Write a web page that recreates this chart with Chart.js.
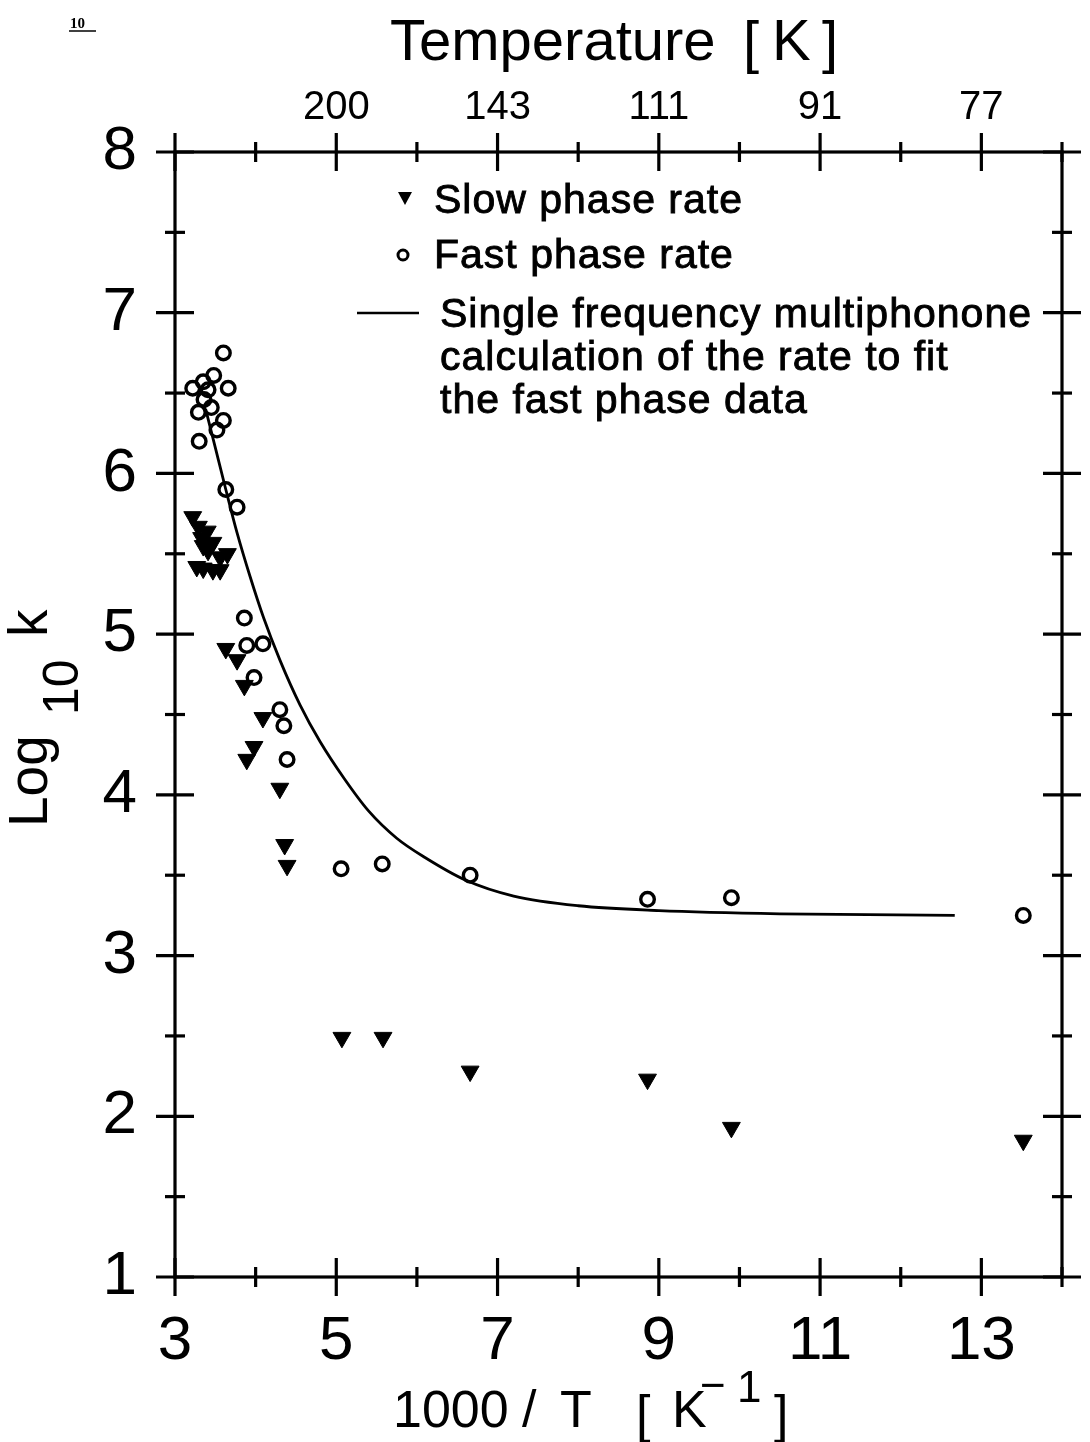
<!DOCTYPE html>
<html>
<head>
<meta charset="utf-8">
<script src="https://cdn.jsdelivr.net/npm/chart.js@4.4.0/dist/chart.umd.min.js"></script>
<style>
html, body { margin: 0; padding: 0; background: #fff; }
#wrap { width: 1090px; height: 1442px; }
</style>
</head>
<body>
<div id="wrap"><canvas id="chart" width="1090" height="1442"></canvas></div>
<script>
// slow phase rate (filled triangles), x = 1000/T, y = log10 k
var slowX = [3.22, 3.29, 3.40, 3.33, 3.47, 3.35, 3.41, 3.65, 3.56, 3.27, 3.35, 3.47, 3.56,
             3.63, 3.77, 3.86, 4.09, 3.98, 3.89, 4.30, 4.36, 4.39, 5.07, 5.58, 6.66, 8.86, 9.90, 13.52];
var slowY = [5.73, 5.67, 5.64, 5.60, 5.57, 5.55, 5.52, 5.50, 5.48, 5.42, 5.41, 5.40, 5.40,
             4.91, 4.84, 4.68, 4.48, 4.30, 4.22, 4.04, 3.69, 3.56, 2.49, 2.49, 2.28, 2.23, 1.93, 1.85];

// fast phase rate (open circles)
var fastX = [3.60, 3.48, 3.35, 3.22, 3.66, 3.41, 3.36, 3.45, 3.29, 3.60, 3.52, 3.30, 3.63, 3.77,
             3.86, 3.89, 4.09, 3.98, 4.30, 4.35, 4.39, 5.06, 5.57, 6.66, 8.86, 9.90, 13.52];
var fastY = [6.75, 6.61, 6.57, 6.53, 6.53, 6.52, 6.46, 6.41, 6.38, 6.33, 6.27, 6.20, 5.90, 5.79,
             5.10, 4.93, 4.94, 4.73, 4.53, 4.43, 4.22, 3.54, 3.57, 3.50, 3.35, 3.36, 3.25];

// multiphonon fit curve
var fitX = [3.38, 3.50, 3.63, 3.77, 3.93, 4.10, 4.30, 4.55, 4.80, 5.10, 5.40, 5.75, 6.10, 6.60, 7.20, 8.00, 9.00, 10.50, 12.67];
var fitY = [6.40, 6.16, 5.90, 5.63, 5.36, 5.10, 4.84, 4.56, 4.33, 4.10, 3.90, 3.73, 3.61, 3.47, 3.37, 3.31, 3.28, 3.26, 3.25];

// tick labels
var bottomTicks = [3, 5, 7, 9, 11, 13];
var topTickValues = [5, 7, 9, 11, 13];
var topTickLabels = ['200', '143', '111', '91', '77'];
var yTicks = [1, 2, 3, 4, 5, 6, 7, 8];

function pts(xs, ys) {
    return xs.map(function(x, i) { return {x: x, y: ys[i]}; });
}

Chart.defaults.font.family = '"Liberation Sans", Arial, sans-serif';
Chart.defaults.color = '#000';

function seg(ctx, x1, y1, x2, y2) {
    ctx.beginPath();
    ctx.moveTo(x1, y1);
    ctx.lineTo(x2, y2);
    ctx.stroke();
}

function heavyText(ctx, s, x, y) {
    ctx.fillText(s, x, y);
    ctx.strokeText(s, x, y);
}

// frame with ticks crossing the border on all four sides
var boxPlugin = {
    id: 'box',
    afterDatasetsDraw: function(chart) {
        var ctx = chart.ctx, a = chart.chartArea;
        var xs = chart.scales.x, ys = chart.scales.y;
        ctx.save();
        ctx.strokeStyle = '#000';
        ctx.lineWidth = 3.2;
        ctx.strokeRect(a.left, a.top, a.right - a.left, a.bottom - a.top);
        xs.ticks.forEach(function(t) {
            var px = xs.getPixelForValue(t.value);
            var len = (Math.round(t.value) % 2 === 1) ? 19 : 10;
            seg(ctx, px, a.bottom - len, px, a.bottom + len);
            seg(ctx, px, a.top - len, px, a.top + len);
        });
        ys.ticks.forEach(function(t) {
            var py = ys.getPixelForValue(t.value);
            var len = Number.isInteger(t.value) ? 19 : 10;
            seg(ctx, a.left - len, py, a.left + len, py);
            seg(ctx, a.right - len, py, a.right + len, py);
        });
        ctx.restore();
    },
    afterDraw: function(chart) {
        var ctx = chart.ctx;
        ctx.save();
        ctx.fillStyle = '#000';
        ctx.strokeStyle = '#000';
        ctx.textBaseline = 'alphabetic';
        ctx.textAlign = 'left';

        // page number
        ctx.font = 'bold 15px "Liberation Serif"';
        ctx.fillText('10', 70, 28);
        ctx.lineWidth = 1.5;
        seg(ctx, 69, 31, 96, 31);

        // top title
        ctx.font = '58px "Liberation Sans"';
        ctx.fillText('Temperature', 390, 60);
        ctx.fillText('[', 743, 62);
        ctx.fillText('K', 772, 60);
        ctx.fillText(']', 822, 62);

        // bottom title
        ctx.font = '52px "Liberation Sans"';
        ctx.fillText('1000', 393, 1427);
        ctx.fillText('/', 522, 1427);
        ctx.fillText('T', 560, 1427);
        ctx.fillText('[', 636, 1432);
        ctx.fillText('K', 672, 1427);
        ctx.fillText(']', 774, 1432);
        ctx.font = '44px "Liberation Sans"';
        ctx.fillText('\u2212', 700, 1400);
        ctx.fillText('1', 737, 1402);

        // y title, rotated
        ctx.save();
        ctx.translate(47, 0);
        ctx.rotate(-Math.PI / 2);
        ctx.font = '55px "Liberation Sans"';
        ctx.fillText('Log', -827, 0);
        ctx.fillText('k', -637, 0);
        ctx.font = '50px "Liberation Sans"';
        ctx.fillText('10', -715, 31);
        ctx.restore();

        // legend
        ctx.font = '41px "Liberation Sans"';
        ctx.letterSpacing = '1px';
        ctx.lineWidth = 0.9;
        heavyText(ctx, 'Slow phase rate', 434, 213);
        heavyText(ctx, 'Fast phase rate', 434, 268);
        heavyText(ctx, 'Single frequency multiphonone', 440, 327);
        heavyText(ctx, 'calculation of the rate to fit', 440, 370);
        heavyText(ctx, 'the fast phase data', 440, 413);
        ctx.letterSpacing = '0px';
        // legend triangle
        ctx.beginPath();
        ctx.moveTo(398, 192);
        ctx.lineTo(412, 192);
        ctx.lineTo(405, 205);
        ctx.closePath();
        ctx.fill();
        // legend circle
        ctx.lineWidth = 3;
        ctx.beginPath();
        ctx.arc(403, 255, 5, 0, Math.PI * 2);
        ctx.stroke();
        // legend line
        ctx.lineWidth = 2.6;
        seg(ctx, 357, 313, 419, 313);
        ctx.restore();
    }
};

new Chart(document.getElementById('chart').getContext('2d'), {
    type: 'scatter',
    data: {
        datasets: [{
            label: 'Slow phase rate',
            data: pts(slowX, slowY),
            pointStyle: 'triangle',
            rotation: 180,
            pointRadius: 10.3,
            backgroundColor: '#000',
            borderColor: '#000',
            borderWidth: 1
        }, {
            label: 'Fast phase rate',
            data: pts(fastX, fastY),
            pointStyle: 'circle',
            pointRadius: 6.8,
            backgroundColor: 'rgba(0,0,0,0)',
            borderColor: '#000',
            borderWidth: 3.4
        }, {
            type: 'line',
            label: 'Single frequency multiphonone calculation',
            data: pts(fitX, fitY),
            showLine: true,
            pointRadius: 0,
            borderColor: '#000',
            borderWidth: 2.8,
            cubicInterpolationMode: 'monotone',
            fill: false
        }]
    },
    options: {
        responsive: false,
        animation: false,
        devicePixelRatio: 1,
        layout: { padding: 0 },
        plugins: {
            legend: { display: false },
            title: { display: false },
            tooltip: { enabled: false }
        },
        scales: {
            x: {
                type: 'linear', position: 'bottom', min: 3, max: 14,
                grid: { display: false, drawTicks: false },
                border: { display: false },
                ticks: {
                    stepSize: 1, autoSkip: false, maxRotation: 0, padding: 28,
                    font: { size: 62 },
                    callback: function(v) { return bottomTicks.indexOf(v) >= 0 ? String(v) : ''; }
                },
                afterFit: function(s) { s.height = 165; }
            },
            x2: {
                type: 'linear', position: 'top', min: 3, max: 14,
                grid: { display: false, drawTicks: false },
                border: { display: false },
                ticks: {
                    stepSize: 1, autoSkip: false, maxRotation: 0, padding: 20,
                    font: { size: 40 },
                    callback: function(v) {
                        var i = topTickValues.indexOf(v);
                        return i >= 0 ? topTickLabels[i] : '';
                    }
                },
                afterFit: function(s) { s.height = 152; }
            },
            y: {
                type: 'linear', position: 'left', min: 1, max: 8,
                grid: { display: false, drawTicks: false },
                border: { display: false },
                ticks: {
                    stepSize: 0.5, autoSkip: false, padding: 38,
                    font: { size: 62 },
                    callback: function(v) { return yTicks.indexOf(v) >= 0 ? String(v) : ''; }
                },
                afterFit: function(s) { s.width = 175; }
            },
            y2: {
                type: 'linear', position: 'right', min: 1, max: 8,
                grid: { display: false, drawTicks: false },
                border: { display: false },
                ticks: { display: false },
                afterFit: function(s) { s.width = 28; }
            }
        }
    },
    plugins: [boxPlugin]
});
</script>
</body>
</html>
